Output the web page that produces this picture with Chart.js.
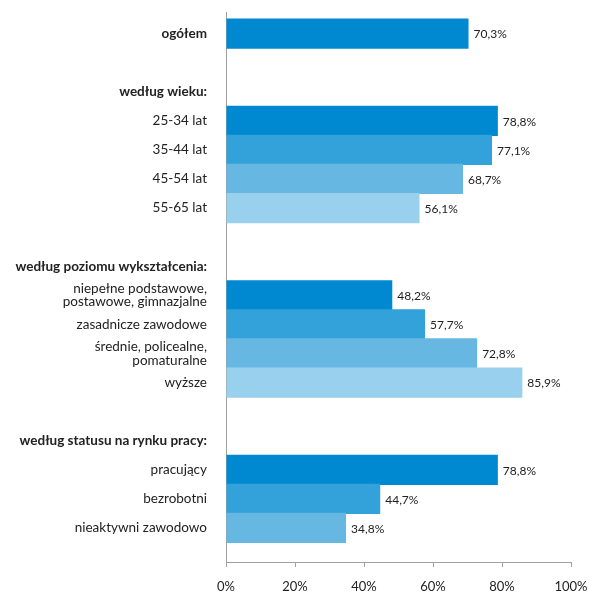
<!DOCTYPE HTML>
<html lang="pl">
<head>
    <meta charset="utf-8">
    <script src="https://cdn.jsdelivr.net/npm/chart.js@4.4.0/dist/chart.umd.min.js"></script>
    <style>
        body { margin: 0; background: #fff; }
        #kontener { width: 589px; height: 594px; }
    </style>
</head>
<body>
    <div id="kontener">
        <canvas id="grafika"></canvas>
    </div>
</body>
</html>
<script>
    const kategorie = [
        'ogółem', '', 'według wieku:',
        '25-34 lat', '35-44 lat', '45-54 lat', '55-65 lat',
        '', 'według poziomu wykształcenia:',
        ['niepełne podstawowe,', 'postawowe, gimnazjalne'],
        'zasadnicze zawodowe',
        ['średnie, policealne,', 'pomaturalne'],
        'wyższe',
        '', 'według statusu na rynku pracy:',
        'pracujący', 'bezrobotni', 'nieaktywni zawodowo'
    ]

    const wartosci = [
        70.3, null, null,
        78.8, 77.1, 68.7, 56.1,
        null, null,
        48.2, 57.7, 72.8, 85.9,
        null, null,
        78.8, 44.7, 34.8
    ]

    const pogrubione = ['ogółem', 'według wieku:', 'według poziomu wykształcenia:', 'według statusu na rynku pracy:']

    const osX = [0, 20, 40, 60, 80, 100]

    const odcienie = ['#0089D1', '#33A1DA', '#66B8E3', '#99D0ED']
    const czcionka = 'Lato, "Noto Sans", sans-serif'
    const kolorTekstu = '#222222'
    const kolorOsi = '#A0A0A0'

    // pozycja słupka w grupie -> odcień
    const pozycjaWGrupie = (i) => {
        let n = 0
        while (i - n - 1 >= 0 && wartosci[i - n - 1] !== null) n++
        return n
    }

    const formatuj = (v) => v.toFixed(1).replace('.', ',') + '%'

    const etykietyWartosci = {
        id: 'etykietyWartosci',
        afterDatasetsDraw(chart) {
            const ctx = chart.ctx
            const meta = chart.getDatasetMeta(0)
            ctx.save()
            ctx.font = '12px ' + czcionka
            ctx.fillStyle = kolorTekstu
            ctx.textAlign = 'left'
            ctx.textBaseline = 'middle'
            meta.data.forEach((slupek, j) => {
                const punkt = chart.data.datasets[0].data[j]
                ctx.fillText(formatuj(punkt.x), slupek.x + 5, slupek.y + 1)
            })
            ctx.restore()
        }
    }

    const dane = wartosci
        .map((v, i) => v === null ? null : { x: v, y: i })
        .filter(p => p !== null)

    new Chart(document.querySelector('#grafika'), {
        type: 'bar',
        data: {
            datasets: [{
                data: dane,
                backgroundColor: (c) => c.raw ? odcienie[pozycjaWGrupie(c.raw.y)] : odcienie[0],
                borderWidth: 0,
                categoryPercentage: 1,
                barPercentage: 1.04
            }]
        },
        options: {
            indexAxis: 'y',
            responsive: true,
            maintainAspectRatio: false,
            animation: false,
            layout: { padding: { top: 12, right: 18, left: 0, bottom: 0 } },
            plugins: {
                legend: { display: false },
                tooltip: { enabled: false }
            },
            scales: {
                y: {
                    type: 'linear',
                    reverse: true,
                    offset: false,
                    min: -0.74,
                    max: 18.17,
                    afterBuildTicks: (skala) => {
                        skala.ticks = kategorie.map((_, i) => ({ value: i }))
                    },
                    afterFit: (skala) => {
                        skala.width = 226
                        skala.paddingTop = 0
                        skala.paddingBottom = 0
                    },
                    grid: { display: false, drawTicks: false, offset: false },
                    border: { display: true, color: kolorOsi, width: 1 },
                    ticks: {
                        autoSkip: false,
                        padding: 19,
                        color: kolorTekstu,
                        font: (c) => ({
                            family: czcionka,
                            size: 13.5,
                            lineHeight: 1.0,
                            weight: pogrubione.includes(kategorie[c.index]) ? 'bold' : 'normal'
                        }),
                        callback: (v) => kategorie[v] ?? ''
                    }
                },
                x: {
                    type: 'linear',
                    min: osX[0],
                    max: osX[osX.length - 1],
                    afterBuildTicks: (skala) => {
                        skala.ticks = osX.map(v => ({ value: v }))
                    },
                    afterFit: (skala) => {
                        skala.height = 32
                        skala.paddingLeft = 0
                        skala.paddingRight = 0
                    },
                    grid: {
                        display: true,
                        drawOnChartArea: false,
                        drawTicks: true,
                        tickLength: 5,
                        color: kolorOsi
                    },
                    border: { display: true, color: kolorOsi, width: 1 },
                    ticks: {
                        padding: 12,
                        color: kolorTekstu,
                        font: { family: czcionka, size: 13 },
                        callback: (v) => v + '%'
                    }
                }
            }
        },
        plugins: [etykietyWartosci]
    })
</script>
